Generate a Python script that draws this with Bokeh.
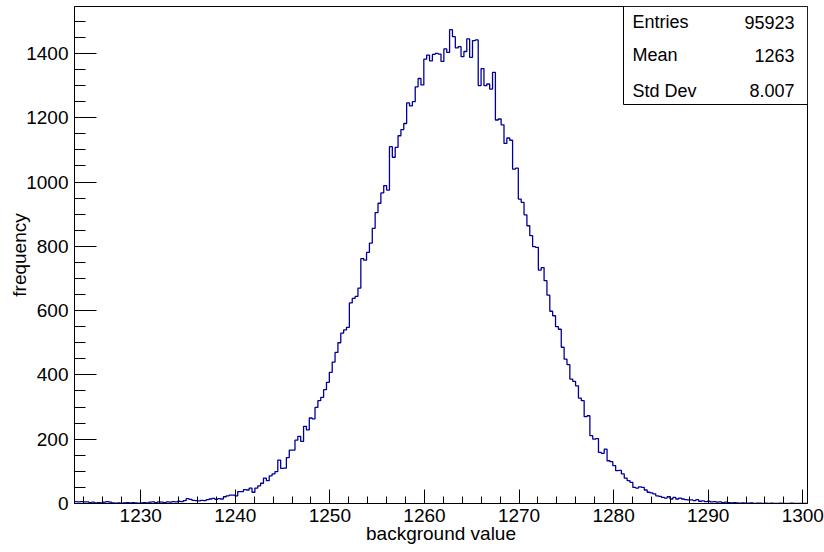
import numpy as np
from bokeh.plotting import figure
from bokeh.models import Range1d, SingleIntervalTicker, Label, BoxAnnotation
from bokeh.embed import file_html
from bokeh.resources import INLINE

# ---- data -------------------------------------------------------------
x_lo = 1223.0
x_hi = 1300.5
n_bins = 256

counts = [
    6, 5, 6, 5, 5, 3, 4, 2, 3, 2,
    4, 6, 4, 2, 1, 2, 1, 2, 3, 2,
    3, 2, 1, 2, 3, 2, 4, 5, 3, 5,
    4, 3, 5, 4, 6, 5, 7, 6, 9, 15,
    13, 10, 9, 8, 10, 9, 12, 14, 16, 13,
    15, 14, 21, 24, 26, 26, 24, 37, 37, 43,
    42, 48, 35, 48, 55, 63, 79, 71, 86, 92,
    99, 135, 109, 110, 143, 166, 166, 197, 209, 193,
    240, 229, 266, 263, 299, 320, 330, 354, 377, 408,
    440, 470, 500, 530, 540, 548, 624, 638, 644, 670,
    762, 757, 781, 810, 856, 905, 934, 966, 989, 975,
    1110, 1077, 1108, 1144, 1163, 1182, 1246, 1237, 1250, 1296,
    1322, 1302, 1382, 1395, 1377, 1397, 1400, 1398, 1375, 1414,
    1403, 1474, 1452, 1417, 1421, 1390, 1406, 1445, 1388, 1440,
    1442, 1300, 1353, 1300, 1305, 1289, 1341, 1193, 1196, 1178,
    1120, 1137, 1130, 1040, 1043, 947, 937, 898, 864, 833,
    799, 797, 726, 734, 693, 648, 598, 584, 550, 542,
    486, 449, 432, 387, 380, 366, 328, 320, 270, 273,
    211, 200, 202, 159, 156, 169, 133, 130, 118, 102,
    103, 92, 79, 71, 66, 50, 48, 52, 50, 42,
    35, 33, 30, 24, 22, 19, 17, 21, 14, 19,
    14, 17, 14, 12, 11, 11, 9, 12, 7, 8,
    6, 7, 5, 6, 4, 5, 3, 4, 3, 2,
    3, 2, 1, 2, 1, 1, 2, 0, 1, 1,
    0, 1, 0, 1, 0, 0, 1, 0, 0, 0,
    1, 0, 0, 0, 0, 0,
]

stats_names = ["Entries", "Mean", "Std Dev"]
stats_values = ["95923", "1263", "8.007"]

x_title = "background value"
y_title = "frequency"

# ---- layout -----------------------------------------------------------
W, H = 824, 552
left_b, right_b, top_b, bottom_b = 74, 17, 6, 49
frame_w = W - left_b - right_b
frame_h = H - top_b - bottom_b
y_top = 1546.0

px_x = frame_w / (x_hi - x_lo)
px_y = frame_h / y_top

FONT = "Liberation Sans"
LINE = "#000099"

edges = np.linspace(x_lo, x_hi, n_bins + 1)
ys = list(counts) + [counts[-1]]

p = figure(width=W, height=H, output_backend="svg", toolbar_location=None,
           x_range=Range1d(x_lo, x_hi), y_range=Range1d(0, y_top),
           min_border_left=left_b, min_border_right=right_b,
           min_border_top=top_b, min_border_bottom=bottom_b,
           x_axis_label=x_title, y_axis_label=y_title)

p.background_fill_color = "white"
p.border_fill_color = "white"
p.outline_line_color = "black"
p.outline_line_width = 1
p.xgrid.visible = False
p.ygrid.visible = False

p.step(edges, ys, mode="after", line_color=LINE, line_width=1.3)

p.xaxis.ticker = SingleIntervalTicker(interval=10, num_minor_ticks=5)
p.yaxis.ticker = SingleIntervalTicker(interval=200, num_minor_ticks=4)

for ax in (p.xaxis[0], p.yaxis[0]):
    ax.axis_line_color = "black"
    ax.major_tick_line_color = "black"
    ax.minor_tick_line_color = "black"
    ax.major_tick_out = 0
    ax.minor_tick_out = 0
    ax.major_label_text_font = FONT
    ax.major_label_text_font_size = "19px"
    ax.major_label_text_color = "black"
    ax.axis_label_text_font = FONT
    ax.axis_label_text_font_size = "19px"
    ax.axis_label_text_font_style = "normal"
    ax.axis_label_text_color = "black"

p.xaxis.major_tick_in = 14
p.xaxis.minor_tick_in = 7
p.xaxis.major_label_standoff = 5
p.xaxis.axis_label_standoff = -2

p.yaxis.major_tick_in = 22
p.yaxis.minor_tick_in = 11
p.yaxis.major_label_standoff = 6
p.yaxis.axis_label_standoff = -7

# ---- statistics box ---------------------------------------------------
box_w_px = 184
box_h_px = 98
box_left = x_hi - box_w_px / px_x
box_bottom = y_top - box_h_px / px_y
p.add_layout(BoxAnnotation(left=box_left, right=x_hi, bottom=box_bottom, top=y_top,
                           fill_color="white", fill_alpha=1.0,
                           line_color="black", line_width=1, line_alpha=1.0))

center_px = [15.5, 48.5, 84]  # text centre, measured from frame top
for name, val, cpx in zip(stats_names, stats_values, center_px):
    yc = y_top - cpx / px_y
    p.add_layout(Label(x=box_left + 9 / px_x, y=yc, text=name,
                       text_font=FONT, text_font_size="18px", text_color="black",
                       text_align="left", text_baseline="middle"))
    p.add_layout(Label(x=x_hi - 13 / px_x, y=yc, text=val,
                       text_font=FONT, text_font_size="18px", text_color="black",
                       text_align="right", text_baseline="middle"))

open("out.html", "w").write(file_html(p, INLINE))
